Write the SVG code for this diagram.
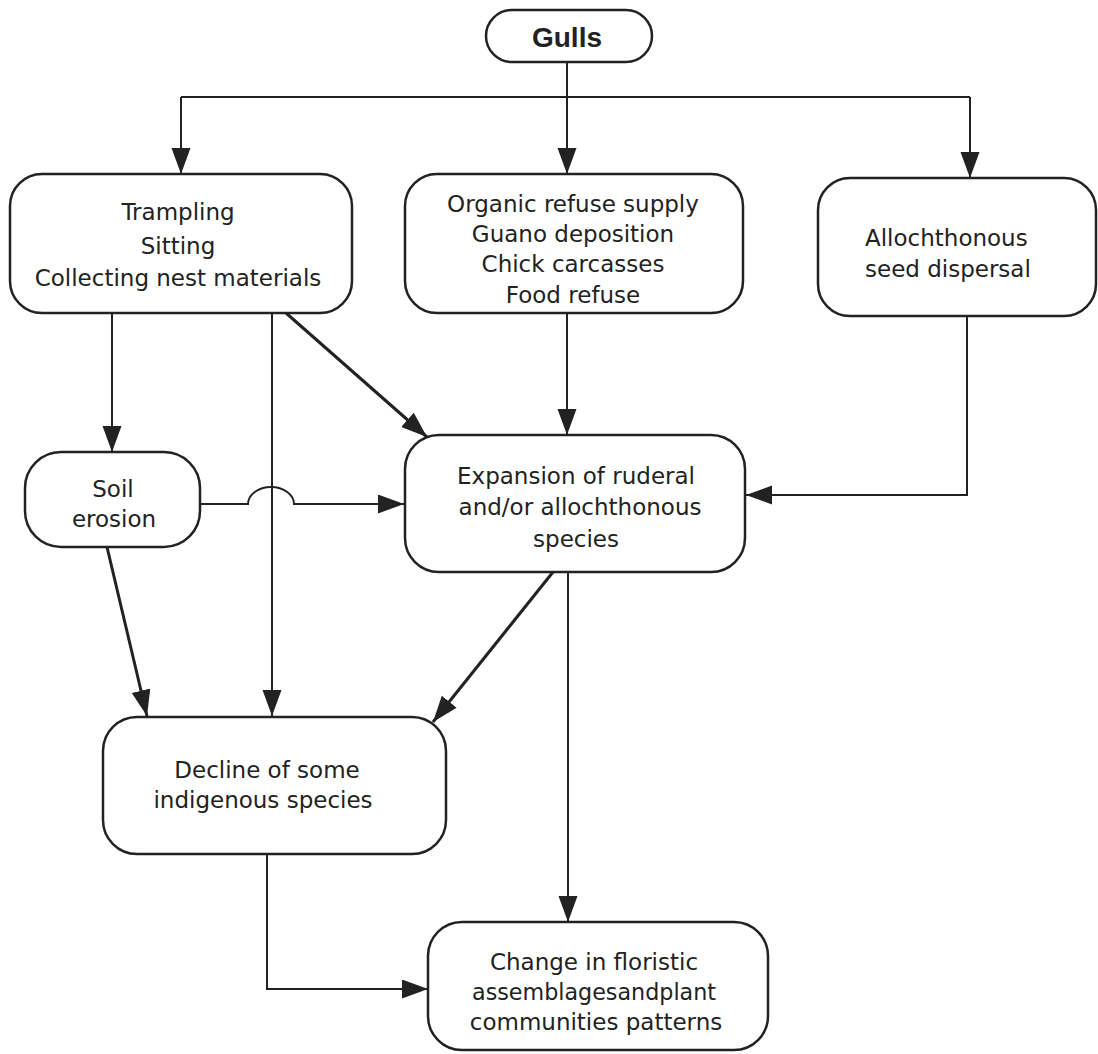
<svg xmlns="http://www.w3.org/2000/svg" width="1098" height="1054" viewBox="0 0 1098 1054">
<style>
.box{fill:#fff;stroke:#222;stroke-width:2.5}
.t{font-family:"DejaVu Sans",Verdana,sans-serif;font-size:23px;fill:#222;text-anchor:middle}
.c{fill:none;stroke:#222;stroke-width:2}
.d{fill:none;stroke:#222;stroke-width:3}
</style>
<defs>
<marker id="ah" markerUnits="userSpaceOnUse" markerWidth="28" markerHeight="20" refX="26" refY="9.5" orient="auto">
<path d="M0,0 L26,9.5 L0,19 Z" fill="#222"/>
</marker>
</defs>
<rect width="1098" height="1054" fill="#fff"/>
<g id="connectors">
<path class="c" d="M567,62 V97"/>
<path class="c" d="M181,97 H970"/>
<path class="c" d="M181,97 V174" marker-end="url(#ah)"/>
<path class="c" d="M567,97 V174" marker-end="url(#ah)"/>
<path class="c" d="M970,97 V178" marker-end="url(#ah)"/>
<path class="c" d="M112,313 V452" marker-end="url(#ah)"/>
<path class="c" d="M272,313 V716" marker-end="url(#ah)"/>
<path class="d" d="M286,313 L427,437" marker-end="url(#ah)"/>
<path class="c" d="M567,313 V435" marker-end="url(#ah)"/>
<path class="c" d="M967,316 V495 H746" marker-end="url(#ah)"/>
<path class="c" d="M200,504 H248 A23,17 0 0 1 294,504 H404" marker-end="url(#ah)"/>
<path class="d" d="M107,547 L147,716" marker-end="url(#ah)"/>
<path class="d" d="M553,572 L433,722" marker-end="url(#ah)"/>
<path class="c" d="M568,572 V922" marker-end="url(#ah)"/>
<path class="c" d="M267,854 V989 H428" marker-end="url(#ah)"/>
</g>
<g id="gulls">
<rect class="box" x="486" y="10" width="166" height="52" rx="26"/>
<text x="567" y="47" style="font-family:'Liberation Sans',Arial,sans-serif;font-size:28px;font-weight:bold;fill:#222;text-anchor:middle">Gulls</text>
</g>
<g id="trampling">
<rect class="box" x="10" y="174" width="342" height="139" rx="32"/>
<text class="t" x="178" y="220">Trampling</text>
<text class="t" x="178" y="254">Sitting</text>
<text class="t" x="178" y="286">Collecting nest materials</text>
</g>
<g id="organic">
<rect class="box" x="405" y="174" width="338" height="139" rx="32"/>
<text class="t" x="573" y="212">Organic refuse supply</text>
<text class="t" x="573" y="242">Guano deposition</text>
<text class="t" x="573" y="272">Chick carcasses</text>
<text class="t" x="573" y="303">Food refuse</text>
</g>
<g id="seed">
<rect class="box" x="818" y="178" width="278" height="138" rx="32"/>
<text class="t" x="865" y="246" style="text-anchor:start">Allochthonous</text>
<text class="t" x="865" y="277" style="text-anchor:start">seed dispersal</text>
</g>
<g id="soil">
<rect class="box" x="25" y="452" width="175" height="95" rx="36"/>
<text class="t" x="113" y="497">Soil</text>
<text class="t" x="114" y="527">erosion</text>
</g>
<g id="expansion">
<rect class="box" x="405" y="435" width="340" height="137" rx="34"/>
<text class="t" x="576" y="484">Expansion of ruderal</text>
<text class="t" x="580" y="515">and/or allochthonous</text>
<text class="t" x="576" y="547">species</text>
</g>
<g id="decline">
<rect class="box" x="103" y="717" width="343" height="137" rx="34"/>
<text class="t" x="267" y="778">Decline of some</text>
<text class="t" x="263" y="808">indigenous species</text>
</g>
<g id="change">
<rect class="box" x="428" y="922" width="340" height="128" rx="34"/>
<text class="t" x="594" y="970">Change in floristic</text>
<text class="t" x="594" y="1000" textLength="244" lengthAdjust="spacingAndGlyphs">assemblagesandplant</text>
<text class="t" x="596" y="1030">communities patterns</text>
</g>
</svg>
